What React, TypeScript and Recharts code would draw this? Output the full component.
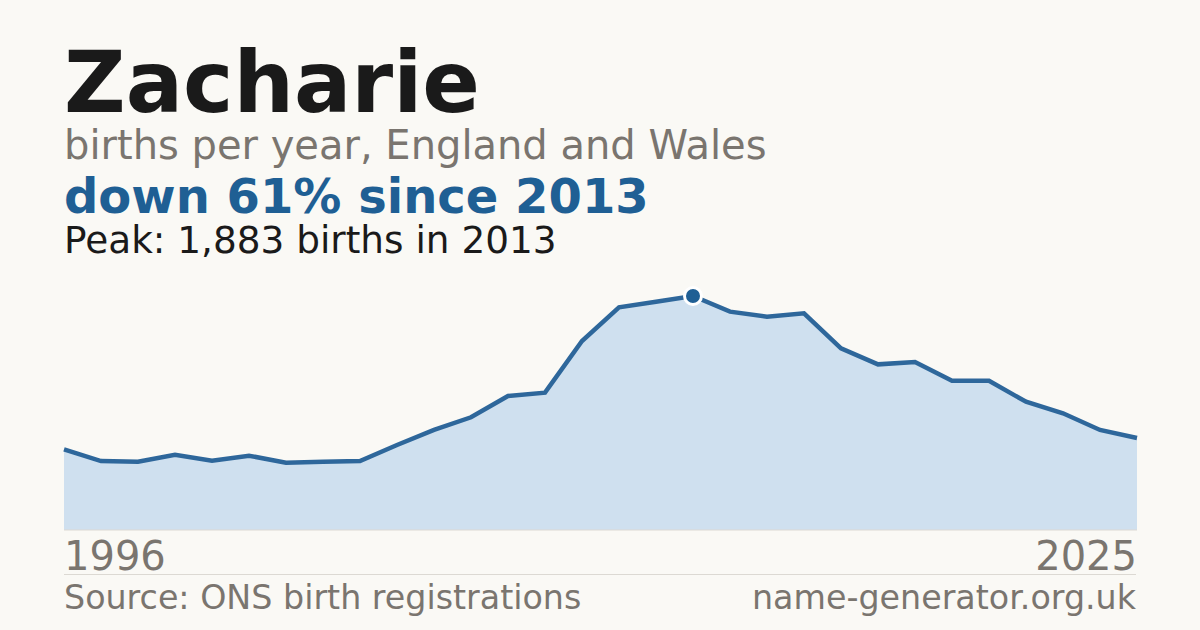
import React from "react";
import { AreaChart, Area, XAxis, YAxis, ReferenceLine } from "recharts";

const years = [
  1996, 1997, 1998, 1999, 2000, 2001, 2002, 2003, 2004, 2005,
  2006, 2007, 2008, 2009, 2010, 2011, 2012, 2013, 2014, 2015,
  2016, 2017, 2018, 2019, 2020, 2021, 2022, 2023, 2024, 2025,
];

const births = [
  649, 555, 550, 606, 558, 598, 542, 550, 555, 684,
  805, 907, 1078, 1105, 1521, 1792, 1837, 1883, 1757, 1716,
  1744, 1462, 1333, 1352, 1201, 1201, 1032, 939, 805, 740,
];

const tickYears = [1996, 2025];

const NAME = "Zacharie";
const SUBTITLE = "births per year, England and Wales";
const SOURCE = "Source: ONS birth registrations";
const SITE = "name-generator.org.uk";

const FONT = "'DejaVu Sans', sans-serif";
const BG = "#faf9f5";
const BLUE = "#1f5f94";
const LINE = "#2e679b";
const FILL = "#cfe0ef";
const GREY = "#7a756f";
const INK = "#1a1a1a";

const data = years.map((year, i) => ({ year, births: births[i] }));

const peak = Math.max(...births);
const peakIndex = births.indexOf(peak);
const peakYear = years[peakIndex];
const last = births[births.length - 1];
const dropPct = Math.round((1 - last / peak) * 100);

function YearTick(props: any) {
  const { x, y, payload } = props;
  const isFirst = payload.value === tickYears[0];
  return (
    <text
      x={x}
      y={y + 32}
      textAnchor={isFirst ? "start" : "end"}
      fill={GREY}
      fontSize={40}
      fontFamily={FONT}
    >
      {payload.value}
    </text>
  );
}

function PeakDot(props: any) {
  const { cx, cy, index } = props;
  if (index !== peakIndex) return <g key={index} />;
  return (
    <circle
      key={index}
      cx={cx}
      cy={cy}
      r={8.5}
      fill={BLUE}
      stroke="#ffffff"
      strokeWidth={3}
    />
  );
}

export default function App() {
  return (
    <div
      style={{
        position: "fixed",
        left: 0,
        top: 0,
        width: 1200,
        height: 630,
        background: BG,
        overflow: "hidden",
      }}
    >
      <div style={{ position: "absolute", left: 0, top: 0 }}>
        <AreaChart
          width={1200}
          height={630}
          data={data}
          margin={{ top: 296, right: 63, bottom: 60, left: 64 }}
        >
          <XAxis
            dataKey="year"
            type="number"
            domain={[years[0], years[years.length - 1]]}
            ticks={tickYears}
            interval={0}
            tickLine={false}
            axisLine={false}
            height={40}
            tick={<YearTick />}
          />
          <YAxis hide domain={[0, peak]} />
          <ReferenceLine y={0} stroke="#dcd9d3" strokeWidth={1} />
          <Area
            type="linear"
            dataKey="births"
            stroke={LINE}
            strokeWidth={4.5}
            fill={FILL}
            fillOpacity={1}
            dot={<PeakDot />}
            activeDot={false}
            isAnimationActive={false}
          />
        </AreaChart>
      </div>
      <svg
        width={1200}
        height={630}
        style={{ position: "absolute", left: 0, top: 0, pointerEvents: "none" }}
        fontFamily={FONT}
      >
        <text x={64} y={112} fontSize={85} fontWeight="bold" fill={INK}>
          {NAME}
        </text>
        <text x={64} y={159} fontSize={40} fill={GREY}>
          {SUBTITLE}
        </text>
        <text x={64} y={213} fontSize={48} fontWeight="bold" fill={BLUE}>
          {`down ${dropPct}% since ${peakYear}`}
        </text>
        <text x={64} y={253} fontSize={37.4} fill={INK}>
          {`Peak: ${peak.toLocaleString("en-GB")} births in ${peakYear}`}
        </text>
        <line x1={64} x2={1136} y1={574.5} y2={574.5} stroke="#dcd9d3" strokeWidth={1} />
        <text x={64} y={609} fontSize={33.3} fill={GREY}>
          {SOURCE}
        </text>
        <text x={1136} y={609} fontSize={33.3} fill={GREY} textAnchor="end">
          {SITE}
        </text>
      </svg>
    </div>
  );
}
